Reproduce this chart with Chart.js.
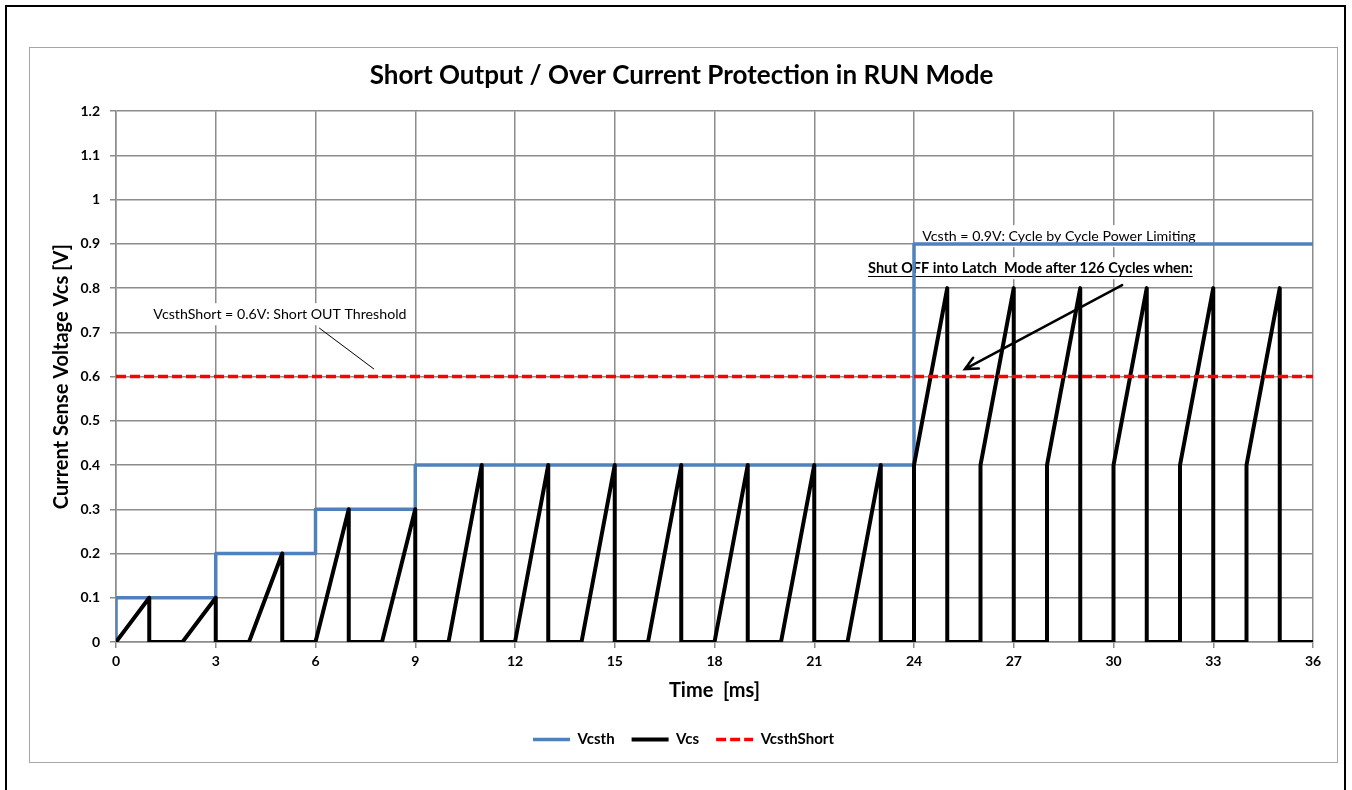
<!DOCTYPE html>
<html>
<head>
<meta charset="utf-8">
<script src="https://cdn.jsdelivr.net/npm/chart.js@4.4.1/dist/chart.umd.min.js"></script>
<style>
  html, body { margin: 0; padding: 0; background: #fff; overflow: hidden; }
</style>
</head>
<body>
<canvas id="chart" width="1352" height="790"></canvas>
<script>
// time [ms] / voltage [V] pairs for each trace
const vcsthT = [0, 0, 3, 3, 6, 6, 9, 9, 24, 24, 36];
const vcsthV = [0, 0.1, 0.1, 0.2, 0.2, 0.3, 0.3, 0.4, 0.4, 0.9, 0.9];

const vcsT = [0, 1, 1, 2, 3, 3, 4, 5, 5, 6, 7, 7, 8, 9, 9, 10, 11, 11, 12, 13, 13, 14, 15, 15,
  16, 17, 17, 18, 19, 19, 20, 21, 21, 22, 23, 23, 24, 24, 25, 25, 26, 26, 27, 27, 28, 28, 29, 29,
  30, 30, 31, 31, 32, 32, 33, 33, 34, 34, 35, 35, 36];
const vcsV = [0, 0.1, 0, 0, 0.1, 0, 0, 0.2, 0, 0, 0.3, 0, 0, 0.3, 0, 0, 0.4, 0, 0, 0.4, 0, 0, 0.4, 0,
  0, 0.4, 0, 0, 0.4, 0, 0, 0.4, 0, 0, 0.4, 0, 0, 0.4, 0.8, 0, 0, 0.4, 0.8, 0, 0, 0.4, 0.8, 0,
  0, 0.4, 0.8, 0, 0, 0.4, 0.8, 0, 0, 0.4, 0.8, 0, 0];

const shortT = [0, 36];
const shortV = [0.6, 0.6];

const xTickLabels = ['0', '3', '6', '9', '12', '15', '18', '21', '24', '27', '30', '33', '36'];
const yTickLabels = ['0', '0.1', '0.2', '0.3', '0.4', '0.5', '0.6', '0.7', '0.8', '0.9', '1', '1.1', '1.2'];

// text notes, anchored in data units (centre of text)
const noteText = ['VcsthShort = 0.6V: Short OUT Threshold', 'Vcsth = 0.9V: Cycle by Cycle Power Limiting', 'Shut OFF into Latch  Mode after 126 Cycles when:'];
const noteX = [4.93, 28.36, 27.5];
const noteY = [0.741, 0.9175, 0.845];
const noteBold = [false, false, true];
const noteSize = [14.2, 14.2, 14.5];

// pointer lines [x0, y0, x1, y1] in data units
const leaderLine = [6.11, 0.71, 7.76, 0.617];
const arrowLine = [30.26, 0.807, 25.53, 0.617];

const FONT = 'Lato, "Open Sans", sans-serif';
Chart.defaults.font.family = FONT;
Chart.defaults.color = '#000';

const pts = (t, v) => t.map((x, i) => ({ x: x, y: v[i] }));

const framePlugin = {
  id: 'frame',
  afterLayout(chart) {
    // the original centres title and legend on the whole frame, not the plot box
    chart.legend.left += 12;
    chart.legend.right += 12;
    chart.legend.top += 2;
    chart.legend.bottom += 2;
    chart.titleBlock.left += 10;
    chart.titleBlock.right += 10;
  },
  beforeDraw(chart) {
    const c = chart.ctx;
    c.save();
    c.fillStyle = '#fff';
    c.fillRect(0, 0, chart.width, chart.height);
    c.strokeStyle = '#000';
    c.lineWidth = 2;
    c.strokeRect(6, 6, 1339, 800);
    c.strokeStyle = '#a6a6a6';
    c.lineWidth = 1;
    c.strokeRect(29.5, 47.5, 1308, 715);
    c.restore();
  }
};

const notesPlugin = {
  id: 'notes',
  beforeDatasetsDraw(chart) {
    const { ctx, scales: { x, y } } = chart;
    ctx.save();
    noteText.forEach((txt, i) => {
      ctx.font = (noteBold[i] ? 'bold ' : '') + noteSize[i] + 'px ' + FONT;
      const w = ctx.measureText(txt).width;
      const px = x.getPixelForValue(noteX[i]);
      const py = y.getPixelForValue(noteY[i]);
      ctx.fillStyle = '#fff';
      ctx.fillRect(px - w / 2 - 4, py - 11, w + 8, 22);
      ctx.fillStyle = '#000';
      ctx.textAlign = 'center';
      ctx.textBaseline = 'middle';
      ctx.fillText(txt, px, py);
      if (noteBold[i]) {
        ctx.strokeStyle = '#000';
        ctx.lineWidth = 1;
        ctx.beginPath();
        ctx.moveTo(px - w / 2, Math.round(py + 8) + 0.5);
        ctx.lineTo(px + w / 2, Math.round(py + 8) + 0.5);
        ctx.stroke();
      }
    });
    ctx.restore();
  },
  afterDatasetsDraw(chart) {
    const { ctx, scales: { x, y } } = chart;
    ctx.save();
    ctx.strokeStyle = '#000';
    // thin leader line
    ctx.lineWidth = 1;
    ctx.beginPath();
    ctx.moveTo(x.getPixelForValue(leaderLine[0]), y.getPixelForValue(leaderLine[1]));
    ctx.lineTo(x.getPixelForValue(leaderLine[2]), y.getPixelForValue(leaderLine[3]));
    ctx.stroke();
    // arrow
    const x0 = x.getPixelForValue(arrowLine[0]), y0 = y.getPixelForValue(arrowLine[1]);
    const x1 = x.getPixelForValue(arrowLine[2]), y1 = y.getPixelForValue(arrowLine[3]);
    const ang = Math.atan2(y1 - y0, x1 - x0);
    ctx.lineWidth = 2.5;
    ctx.lineCap = 'round';
    ctx.beginPath();
    ctx.moveTo(x0, y0);
    ctx.lineTo(x1, y1);
    ctx.moveTo(x1 - 14 * Math.cos(ang - 0.45), y1 - 14 * Math.sin(ang - 0.45));
    ctx.lineTo(x1, y1);
    ctx.lineTo(x1 - 14 * Math.cos(ang + 0.45), y1 - 14 * Math.sin(ang + 0.45));
    ctx.stroke();
    ctx.restore();
  }
};

const gridColor = '#8c8c8c';
const tickFont = { size: 14, weight: 'bold' };
const axisTitleFont = { size: 20, weight: 'bold' };

new Chart(document.getElementById('chart').getContext('2d'), {
  type: 'line',
  data: {
    datasets: [
      { label: 'Vcsth', data: pts(vcsthT, vcsthV), borderColor: '#4f81bd', backgroundColor: '#4f81bd', borderWidth: 3.5, order: 3 },
      { label: 'Vcs', data: pts(vcsT, vcsV), borderColor: '#000000', backgroundColor: '#000000', borderWidth: 4, order: 2 },
      { label: 'VcsthShort', data: pts(shortT, shortV), borderColor: '#ff0000', backgroundColor: '#ff0000', borderWidth: 3.5, borderDash: [10, 4], order: 1 }
    ]
  },
  options: {
    responsive: false,
    animation: false,
    elements: {
      point: { radius: 0 },
      line: { tension: 0, borderJoinStyle: 'round', fill: false }
    },
    layout: { padding: { left: 30, right: 39, top: 47, bottom: 35 } },
    plugins: {
      title: {
        display: true,
        text: 'Short Output / Over Current Protection in RUN Mode',
        font: { size: 26, weight: 'bold' },
        color: '#000',
        padding: { top: 13, bottom: 20 }
      },
      legend: {
        position: 'bottom',
        labels: {
          usePointStyle: true,
          pointStyle: 'line',
          pointStyleWidth: 37,
          padding: 17,
          font: { size: 15, weight: 'bold' },
          color: '#000',
          sort: (a, b) => a.datasetIndex - b.datasetIndex,
          generateLabels: chart => Chart.defaults.plugins.legend.labels.generateLabels(chart).map(item => {
            const ds = chart.data.datasets[item.datasetIndex];
            item.lineDash = ds.borderDash || [];
            item.lineWidth = ds.borderWidth;
            item.strokeStyle = ds.borderColor;
            return item;
          })
        }
      },
      tooltip: { enabled: false }
    },
    scales: {
      x: {
        type: 'linear',
        min: 0,
        max: 36,
        ticks: { stepSize: 3, callback: (v, i) => xTickLabels[i], font: tickFont, color: '#000', padding: 5, maxRotation: 0 },
        grid: { color: gridColor, lineWidth: 1.5, tickLength: 6 },
        border: { color: gridColor, width: 1.5 },
        title: { display: true, text: 'Time  [ms]', font: axisTitleFont, color: '#000', padding: { top: 0, bottom: 10 } },
        afterFit: s => { s.height = 71; }
      },
      y: {
        min: 0,
        max: 1.2,
        ticks: { stepSize: 0.1, callback: (v, i) => yTickLabels[i], font: tickFont, color: '#000', padding: 10 },
        grid: { color: gridColor, lineWidth: 1.5, tickLength: 6 },
        border: { color: gridColor, width: 1.5 },
        title: { display: true, text: 'Current Sense Voltage Vcs [V]', font: axisTitleFont, color: '#000', padding: { top: 20, bottom: 0 } },
        afterFit: s => { s.width = 86; }
      }
    }
  },
  plugins: [framePlugin, notesPlugin]
});
</script>
</body>
</html>
